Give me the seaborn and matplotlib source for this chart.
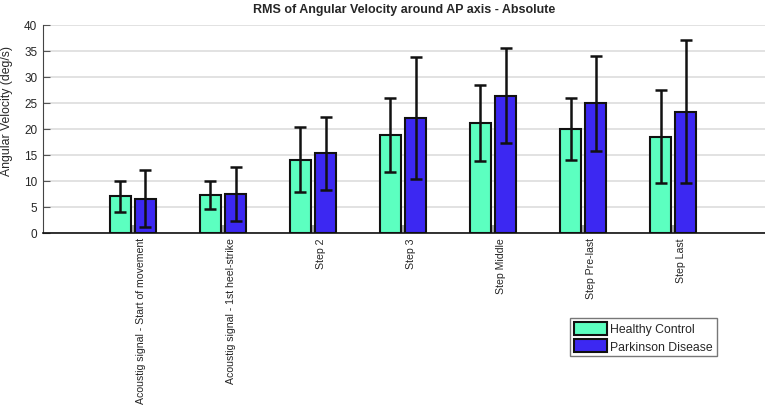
import seaborn as sns
import matplotlib.pyplot as plt
import matplotlib.transforms as mtransforms
import numpy as np
import pandas as pd

# datos
categories = ["Acoustig signal - Start of movement", "Acoustig signal - 1st heel-strike",
              "Step 2", "Step 3", "Step Middle", "Step Pre-last", "Step Last"]
groups = ["Healthy Control", "Parkinson Disease"]
healthy_mean = [7.0, 7.3, 14.1, 18.8, 21.2, 20.0, 18.5]
healthy_sd = [2.9, 2.7, 6.2, 7.1, 7.3, 6.0, 9.0]
parkinson_mean = [6.6, 7.4, 15.3, 22.1, 26.4, 24.9, 23.3]
parkinson_sd = [5.4, 5.2, 7.0, 11.7, 9.2, 9.1, 13.8]
y_ticks = [0, 5, 10, 15, 20, 25, 30, 35, 40]

df = pd.DataFrame({
    "cat": categories * 2,
    "grp": [groups[0]] * 7 + [groups[1]] * 7,
    "val": healthy_mean + parkinson_mean,
})

sns.set_style("white")
plt.rcParams['font.family'] = ['Liberation Sans', 'DejaVu Sans']

fig = plt.figure(figsize=(7.65, 4.06), dpi=100)
ax = fig.add_axes([0.056, 0.424, 0.944, 0.512])

colors = ["#5CFFC0", "#3C28F2"]
sns.barplot(data=df, x="cat", y="val", hue="grp", order=categories, hue_order=groups,
            palette=colors, width=0.56, gap=0.18, errorbar=None,
            edgecolor="#111111", linewidth=1.5, saturation=1, ax=ax)

# barras de error
pos = np.arange(len(categories))
ax.errorbar(pos - 0.14, healthy_mean, yerr=healthy_sd, fmt="none", ecolor="#111111",
            elinewidth=1.8, capsize=4.2, capthick=1.8)
ax.errorbar(pos + 0.14, parkinson_mean, yerr=parkinson_sd, fmt="none", ecolor="#111111",
            elinewidth=1.8, capsize=4.2, capthick=1.8)

ax.set_xlim(-1, 7.02)
ax.set_ylim(0, 40)
ax.set_yticks(y_ticks)
ax.yaxis.grid(True, color="#dddddd", linewidth=1.2)
ax.set_axisbelow(True)
ax.tick_params(axis="y", labelsize=8.5, length=5, width=0.8, color="#555555", left=True,
               direction="in", pad=4)
ax.tick_params(axis="x", labelsize=7.6, rotation=90, length=6, direction="in",
               color="#aaaaaa", width=1.5, bottom=True, pad=3)
ax.set_xticks(pos)
ax.set_xticklabels(categories, va="top")
# etiquetas desplazadas a la derecha como en el original
shift = mtransforms.ScaledTranslation(8 / 100, 0, fig.dpi_scale_trans)
for lbl in ax.get_xticklabels():
    lbl.set_transform(lbl.get_transform() + shift)
for s in ["top", "right"]:
    ax.spines[s].set_visible(False)
ax.spines["left"].set_color("#444444")
ax.spines["bottom"].set_color("#111111")
ax.spines["bottom"].set_linewidth(1.2)
ax.set_xlabel("")
ax.set_ylabel("Angular Velocity (deg/s)", fontsize=8.8)
ax.yaxis.set_label_coords(-0.041, 0.59)
ax.set_title("RMS of Angular Velocity around AP axis - Absolute", fontsize=9,
             fontweight="bold", pad=9)

leg = ax.legend(loc="lower left", bbox_to_anchor=(0.745, 0.12), bbox_transform=fig.transFigure,
                fontsize=8.8, frameon=True, fancybox=False, handlelength=2.7, handleheight=1.25,
                borderpad=0.3, labelspacing=0.3, handletextpad=0.3, borderaxespad=0)
leg.get_frame().set_edgecolor("#555555")
leg.get_frame().set_linewidth(1.0)

fig.savefig("out.png", dpi=100)
